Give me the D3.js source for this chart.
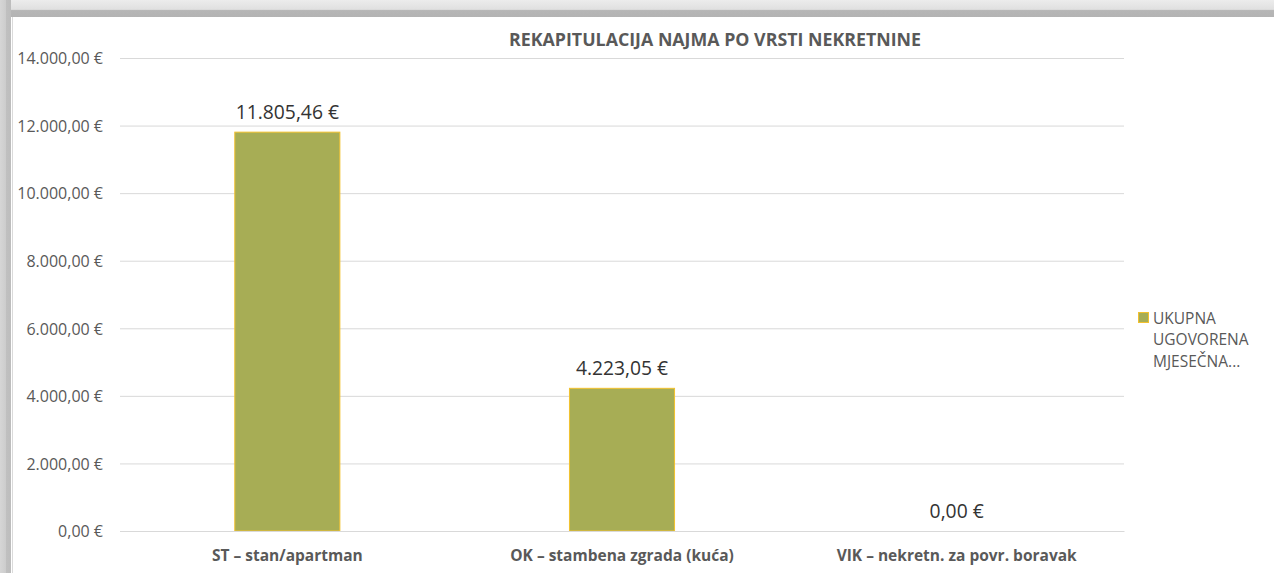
<!DOCTYPE html>
<html>
<head>
<meta charset="utf-8">
<script src="https://cdn.jsdelivr.net/npm/d3@7"></script>
<style>
  html, body { margin: 0; padding: 0; background: #fff; }
  svg { display: block; }
  text { font-family: "Open Sans", "Noto Sans", sans-serif; }
</style>
</head>
<body>
<svg id="chart" width="1274" height="573"></svg>
<script>
// ---- data ----
const title = "REKAPITULACIJA NAJMA PO VRSTI NEKRETNINE";
const categories = ["ST – stan/apartman", "OK – stambena zgrada (kuća)", "VIK – nekretn. za povr. boravak"];
const values = [11805.46, 4223.05, 0.00];
const tickValues = [0, 2000, 4000, 6000, 8000, 10000, 12000, 14000];
const legendLines = ["UKUPNA", "UGOVORENA", "MJESEČNA..."];

// ---- setup ----
const W = 1274, H = 573;
const svg = d3.select("#chart");

const locale = d3.formatLocale({ decimal: ",", thousands: ".", grouping: [3], currency: ["", " €"] });
const fmt = v => locale.format(",.2f")(v) + " €";

// frame / shadow
const defs = svg.append("defs");
const gTop = defs.append("linearGradient").attr("id", "gTop").attr("x1", 0).attr("y1", 0).attr("x2", 0).attr("y2", 1);
gTop.append("stop").attr("offset", "0%").attr("stop-color", "#ececec");
gTop.append("stop").attr("offset", "55%").attr("stop-color", "#e0e0e0");
gTop.append("stop").attr("offset", "62%").attr("stop-color", "#b6b6b6");
gTop.append("stop").attr("offset", "100%").attr("stop-color", "#b3b3b3");
const gLeft = defs.append("linearGradient").attr("id", "gLeft").attr("x1", 0).attr("y1", 0).attr("x2", 1).attr("y2", 0);
gLeft.append("stop").attr("offset", "0%").attr("stop-color", "#d6d6d6");
gLeft.append("stop").attr("offset", "50%").attr("stop-color", "#cdcdcd");
gLeft.append("stop").attr("offset", "55%").attr("stop-color", "#c0c0c0");
gLeft.append("stop").attr("offset", "100%").attr("stop-color", "#bdbdbd");

svg.append("rect").attr("x", 0).attr("y", 0).attr("width", W).attr("height", H).attr("fill", "#fff");
svg.append("rect").attr("x", 0).attr("y", 0).attr("width", W).attr("height", 17).attr("fill", "url(#gTop)");
svg.append("rect").attr("x", 0).attr("y", 0).attr("width", 11).attr("height", H).attr("fill", "url(#gLeft)");
svg.append("rect").attr("x", 12).attr("y", 17).attr("width", 1).attr("height", H - 17).attr("fill", "#dadada");

// ---- scales ----
const plot = { left: 120, right: 1124, top: 58, bottom: 531 };
const barRatio = 0.314;
const x = d3.scaleBand().domain(categories)
  .range([plot.left, plot.right])
  .paddingInner(1 - barRatio).paddingOuter((1 - barRatio) / 2);
const y = d3.scaleLinear().domain([0, 14000]).range([plot.bottom, plot.top]);

// gridlines
const yAxis = d3.axisLeft(y).tickValues(tickValues).tickSize(-(plot.right - plot.left)).tickFormat(fmt).tickPadding(17);
const ga = svg.append("g").attr("transform", `translate(${plot.left},0)`).call(yAxis);
ga.select(".domain").remove();
ga.selectAll(".tick line").attr("stroke", "#d9d9d9").attr("stroke-width", 1);
ga.selectAll(".tick text")
  .attr("fill", "#595959")
  .style("font-size", "16px")
  .attr("dy", "0.36em");

// bars
svg.append("g").selectAll("rect").data(values).join("rect")
  .attr("x", (d, i) => x(categories[i]))
  .attr("width", x.bandwidth())
  .attr("y", d => y(d))
  .attr("height", d => y(0) - y(d))
  .attr("fill", "#a7ad55")
  .attr("stroke", d => d > 0 ? "#f2c12e" : "none")
  .attr("stroke-width", 1);

// data labels
svg.append("g").selectAll("text").data(values).join("text")
  .attr("x", (d, i) => x(categories[i]) + x.bandwidth() / 2)
  .attr("y", d => y(d) - 13.5)
  .attr("text-anchor", "middle")
  .attr("fill", "#333333")
  .style("font-size", "19.3px")
  .text(d => fmt(d));

// x axis
const xAxis = d3.axisBottom(x).tickSize(0).tickPadding(19);
const gx = svg.append("g").attr("transform", `translate(0,${plot.bottom})`).call(xAxis);
gx.select(".domain").attr("stroke", "#d9d9d9");
gx.selectAll(".tick text")
  .attr("fill", "#595959")
  .style("font-size", "15.5px")
  .style("font-weight", "bold");

// title
svg.append("text")
  .attr("x", 715).attr("y", 46)
  .attr("text-anchor", "middle")
  .attr("fill", "#595959")
  .style("font-size", "17.8px")
  .style("font-weight", "bold")
  .text(title);

// legend
const lg = svg.append("g");
lg.append("rect").attr("x", 1138.5).attr("y", 312.5).attr("width", 10).attr("height", 10)
  .attr("fill", "#a7ad55").attr("stroke", "#f2c12e").attr("stroke-width", 1);
lg.selectAll("text").data(legendLines).join("text")
  .attr("x", 1153)
  .attr("y", (d, i) => 323.5 + i * 21.5)
  .attr("fill", "#595959")
  .style("font-size", "15.5px")
  .text(d => d);
</script>
</body>
</html>
